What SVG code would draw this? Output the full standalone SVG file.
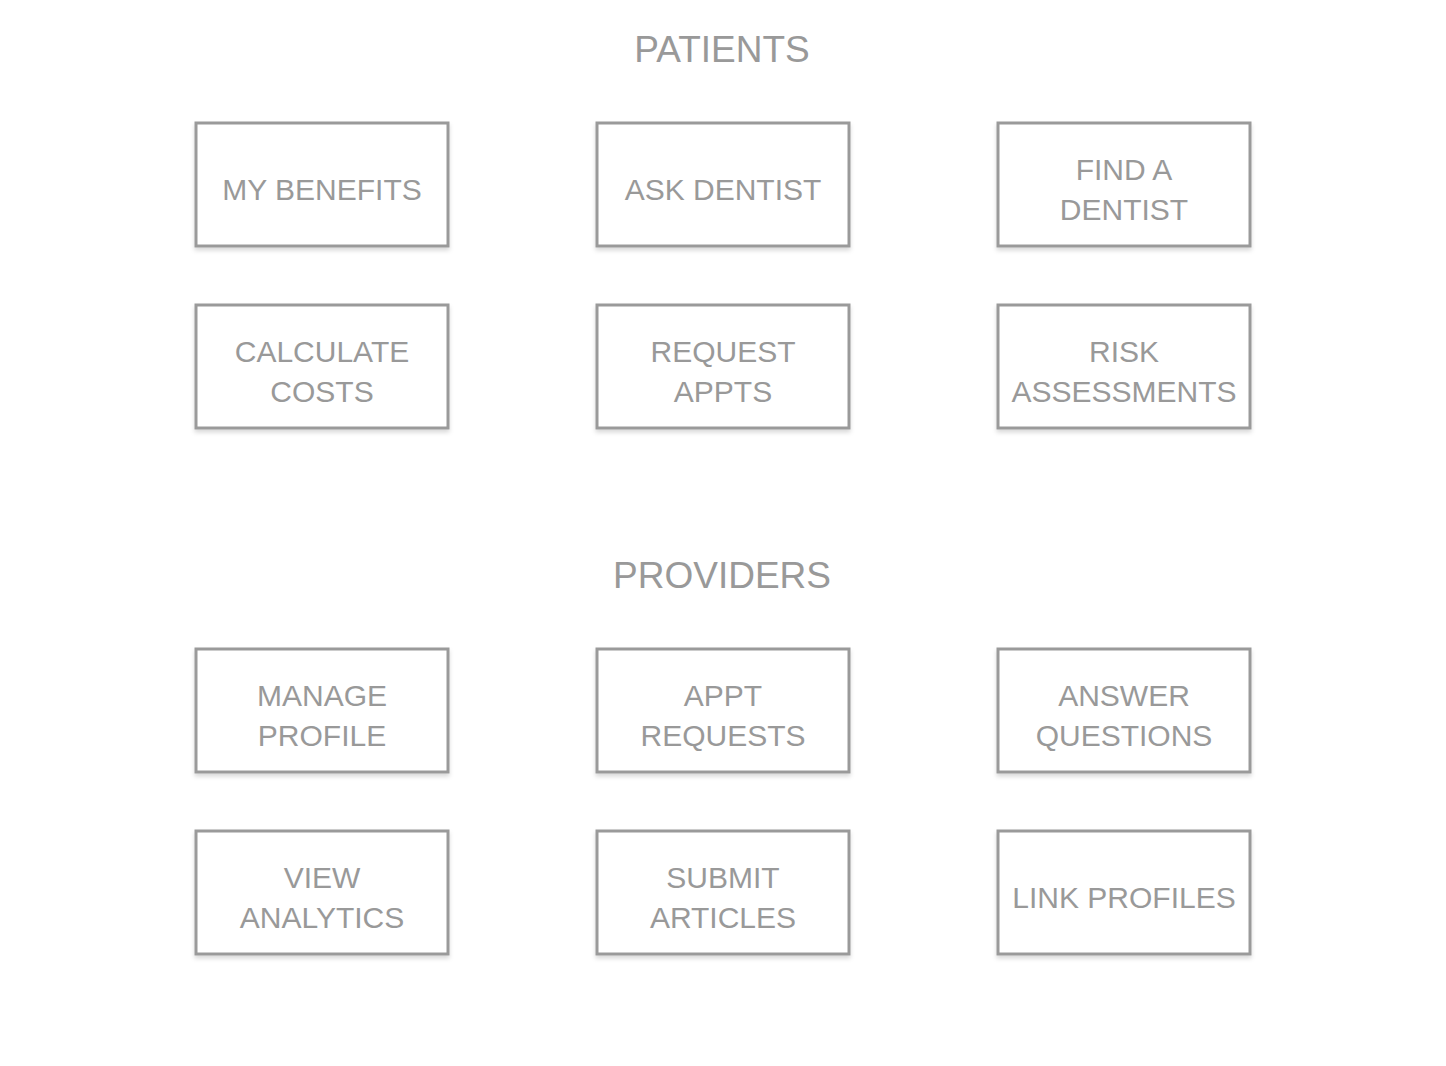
<svg xmlns="http://www.w3.org/2000/svg" width="1446" height="1066" viewBox="0 0 1446 1066">
<style>
.box{fill:#fff;stroke:#9a9a9a;stroke-width:3;filter:url(#sh)}
.t{font-family:"Liberation Sans",Arial,sans-serif;font-size:30px;fill:#999;text-anchor:middle}
.h{font-family:"Liberation Sans",Arial,sans-serif;font-size:37px;fill:#999;text-anchor:middle}
</style>
<defs>
<filter id="sh" x="-10%" y="-10%" width="120%" height="130%">
<feDropShadow dx="0" dy="3" stdDeviation="2" flood-color="#000" flood-opacity="0.15"/>
</filter>
</defs>
<rect width="1446" height="1066" fill="#fff"/>
<text class="h" x="722" y="62">PATIENTS</text>
<text class="h" x="722" y="588">PROVIDERS</text>
<g id="my-benefits"><rect class="box" x="196" y="123" width="252" height="123"/><text class="t" x="322" y="200">MY BENEFITS</text></g>
<g id="ask-dentist"><rect class="box" x="597" y="123" width="252" height="123"/><text class="t" x="723" y="200">ASK DENTIST</text></g>
<g id="find-dentist"><rect class="box" x="998" y="123" width="252" height="123"/><text class="t" x="1124" y="180">FIND A</text><text class="t" x="1124" y="220">DENTIST</text></g>
<g id="calculate-costs"><rect class="box" x="196" y="305" width="252" height="123"/><text class="t" x="322" y="362">CALCULATE</text><text class="t" x="322" y="402">COSTS</text></g>
<g id="request-appts"><rect class="box" x="597" y="305" width="252" height="123"/><text class="t" x="723" y="362">REQUEST</text><text class="t" x="723" y="402">APPTS</text></g>
<g id="risk-assessments"><rect class="box" x="998" y="305" width="252" height="123"/><text class="t" x="1124" y="362">RISK</text><text class="t" x="1124" y="402">ASSESSMENTS</text></g>
<g id="manage-profile"><rect class="box" x="196" y="649" width="252" height="123"/><text class="t" x="322" y="706">MANAGE</text><text class="t" x="322" y="746">PROFILE</text></g>
<g id="appt-requests"><rect class="box" x="597" y="649" width="252" height="123"/><text class="t" x="723" y="706">APPT</text><text class="t" x="723" y="746">REQUESTS</text></g>
<g id="answer-questions"><rect class="box" x="998" y="649" width="252" height="123"/><text class="t" x="1124" y="706">ANSWER</text><text class="t" x="1124" y="746">QUESTIONS</text></g>
<g id="view-analytics"><rect class="box" x="196" y="831" width="252" height="123"/><text class="t" x="322" y="888">VIEW</text><text class="t" x="322" y="928">ANALYTICS</text></g>
<g id="submit-articles"><rect class="box" x="597" y="831" width="252" height="123"/><text class="t" x="723" y="888">SUBMIT</text><text class="t" x="723" y="928">ARTICLES</text></g>
<g id="link-profiles"><rect class="box" x="998" y="831" width="252" height="123"/><text class="t" x="1124" y="908">LINK PROFILES</text></g>
<g id="connectors"></g>
</svg>
